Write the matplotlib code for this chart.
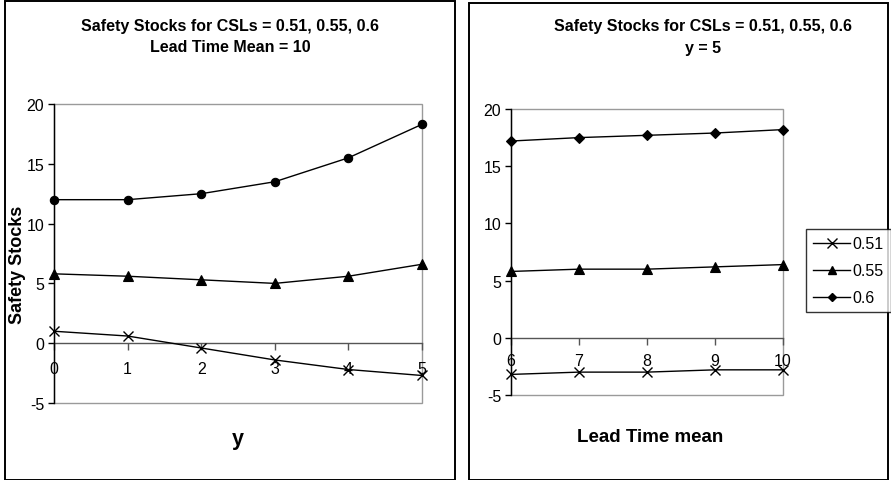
import matplotlib
matplotlib.use("Agg")
import matplotlib.pyplot as plt
from matplotlib.patches import Rectangle
from matplotlib.lines import Line2D

plt.rcParams['font.family'] = ['Liberation Sans', 'DejaVu Sans']

# Safety stocks versus y (lead time mean = 10)
y_values = [0, 1, 2, 3, 4, 5]
ss_y_051 = [1.0, 0.6, -0.4, -1.4, -2.2, -2.7]
ss_y_055 = [5.8, 5.6, 5.3, 5.0, 5.6, 6.6]
ss_y_060 = [12.0, 12.0, 12.5, 13.5, 15.5, 18.3]

# Safety stocks versus lead time mean (y = 5)
lead_times = [6, 7, 8, 9, 10]
ss_lt_051 = [-3.2, -3.0, -3.0, -2.8, -2.8]
ss_lt_055 = [5.8, 6.0, 6.0, 6.2, 6.4]
ss_lt_060 = [17.2, 17.5, 17.7, 17.9, 18.2]

csl_labels = ['0.51', '0.55', '0.6']
markers = ['x', '^', 'o']
markers_right = ['x', '^', 'D']
marker_sizes = {'x': 7, '^': 6.5, 'o': 6, 'D': 5}
y_ticks = [-5, 0, 5, 10, 15, 20]

W, H = 891, 481
fig = plt.figure(figsize=(W / 100, H / 100), dpi=100)


def px_axes(left, top, right, bottom):
    return fig.add_axes([left / W, 1 - bottom / H, (right - left) / W, (bottom - top) / H])


def style_axes(ax, xvals, xpad):
    for s in ['top', 'right']:
        ax.spines[s].set_visible(False)
    ax.spines['left'].set_color('black')
    ax.spines['left'].set_linewidth(1.0)
    ax.spines['left'].set_zorder(5)
    ax.spines['bottom'].set_position(('data', 0))
    ax.spines['bottom'].set_color('#555555')
    ax.spines['bottom'].set_linewidth(1.0)
    ax.set_xlim(xvals[0], xvals[-1])
    ax.set_ylim(-5, 20)
    ax.set_yticks(y_ticks)
    ax.set_yticklabels([str(t) for t in y_ticks])
    ax.set_xticks(xvals)
    ax.set_xticklabels([str(v) for v in xvals])
    ax.tick_params(axis='y', direction='out', length=4, width=1, pad=3, colors='black',
                   labelsize=11.5)
    ax.tick_params(axis='x', direction='out', length=5, width=1, pad=xpad,
                   color='#555555', labelcolor='black', labelsize=11.5)
    # grey plot-area frame
    ax.add_patch(Rectangle((0, 0), 1, 1, transform=ax.transAxes, fill=False,
                           edgecolor='#9a9a9a', linewidth=1.0, zorder=0.5, clip_on=False))


def draw_series(ax, xvals, series, mk):
    for vals, m in zip(series, mk):
        ax.plot(xvals, vals, color='black', linewidth=1.0, marker=m,
                markersize=marker_sizes[m], markeredgewidth=1.0 if m == 'x' else 0.8,
                markerfacecolor='black', markeredgecolor='black', clip_on=False, zorder=6)


# panel frames
fig.patches.append(Rectangle((5 / W, 0), (455 - 5) / W, 1 - 1.5 / H, transform=fig.transFigure,
                             fill=False, edgecolor='black', linewidth=1.4))
fig.patches.append(Rectangle((469 / W, 0), (888 - 469) / W, 1 - 3.5 / H, transform=fig.transFigure,
                             fill=False, edgecolor='black', linewidth=1.4))

# left chart
ax1 = px_axes(54, 105, 422, 404)
style_axes(ax1, y_values, 7.5)
draw_series(ax1, y_values, [ss_y_051, ss_y_055, ss_y_060], markers)
fig.text(230 / W, 1 - 27 / H, 'Safety Stocks for CSLs = 0.51, 0.55, 0.6', ha='center', va='center',
         fontsize=11.5, fontweight='bold')
fig.text(230 / W, 1 - 48 / H, 'Lead Time Mean = 10', ha='center', va='center',
         fontsize=11.5, fontweight='bold')
fig.text(238 / W, 1 - 440 / H, 'y', ha='center', va='center', fontsize=15.5, fontweight='bold')
fig.text(18 / W, 1 - 265 / H, 'Safety Stocks', ha='center', va='center', rotation=90,
         fontsize=13, fontweight='bold')

# right chart
ax2 = px_axes(511, 110, 783, 396)
style_axes(ax2, lead_times, 6)
draw_series(ax2, lead_times, [ss_lt_051, ss_lt_055, ss_lt_060], markers_right)
fig.text(703 / W, 1 - 27 / H, 'Safety Stocks for CSLs = 0.51, 0.55, 0.6', ha='center', va='center',
         fontsize=11.5, fontweight='bold')
fig.text(703 / W, 1 - 48 / H, 'y = 5', ha='center', va='center', fontsize=11.5, fontweight='bold')
fig.text(650 / W, 1 - 438 / H, 'Lead Time mean', ha='center', va='center', fontsize=13.5,
         fontweight='bold')

# legend
handles = [Line2D([], [], color='black', linewidth=1.0, marker=m, markersize=marker_sizes[m] - 0.5,
                  markerfacecolor='black', markeredgecolor='black') for m in markers_right]
leg = fig.legend(handles, csl_labels, loc='upper left', bbox_to_anchor=(806 / W, 1 - 230 / H),
                 frameon=True, fancybox=False, edgecolor='black', fontsize=11.5,
                 handlelength=2.3, handletextpad=0.15, labelspacing=0.75, borderpad=0.45,
                 borderaxespad=0)
leg.get_frame().set_linewidth(1.0)

fig.savefig('out.png', dpi=100)
